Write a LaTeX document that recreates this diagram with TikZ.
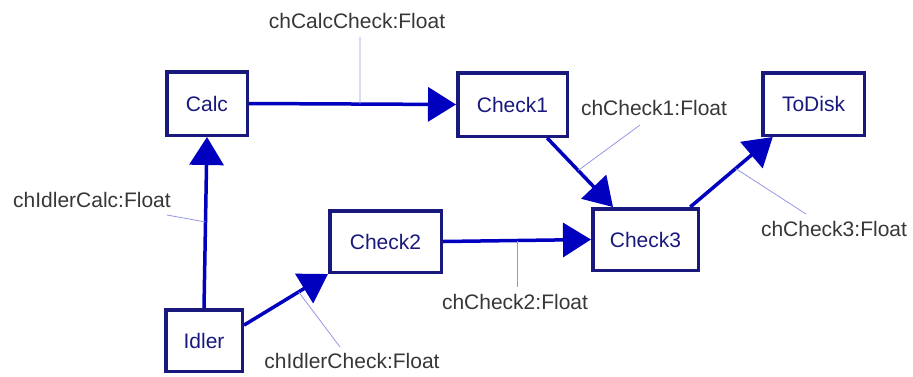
\documentclass[tikz,border=0pt]{standalone}
\usepackage{fontspec}
\setmainfont{Liberation Sans}
\usetikzlibrary{arrows.meta}
\definecolor{boxc}{RGB}{25,25,125}
\definecolor{arrc}{RGB}{0,0,190}
\definecolor{leadc}{RGB}{150,150,230}
\definecolor{labc}{RGB}{55,55,55}
\begin{document}
\begin{tikzpicture}[x=1pt,y=-1pt,
  blk/.style={draw=boxc, line width=3.5pt, text=boxc, font=\fontsize{21}{24}\selectfont, rectangle, inner sep=0pt},
  flow/.style={draw=arrc, line width=3.5pt, -{Triangle[length=28pt,width=34pt]}},
  lead/.style={draw=leadc, line width=0.8pt},
  lab/.style={text=labc, font=\fontsize{21}{24}\selectfont, inner sep=0pt}]
\useasboundingbox (0,0) rectangle (913,376);
\node[blk, minimum width=80.5pt, minimum height=63.5pt] (Calc) at (207,103.5) {Calc};
\node[blk, minimum width=109.5pt, minimum height=63.5pt] (Check1) at (512.5,104.5) {Check1};
\node[blk, minimum width=101.5pt, minimum height=62.5pt] (ToDisk) at (813.5,104) {ToDisk};
\node[blk, minimum width=76.5pt, minimum height=61.5pt] (Idler) at (204,340.5) {Idler};
\node[blk, minimum width=111.5pt, minimum height=61.5pt] (Check2) at (385.5,241.5) {Check2};
\node[blk, minimum width=105.5pt, minimum height=61.5pt] (Check3) at (645.5,239.5) {Check3};

\draw[flow] (Calc.east) -- coordinate[pos=0.536] (m1) (Check1.west);
\draw[flow] (Check1.-44) -- coordinate[pos=0.47] (m2) (Check3.135);
\draw[flow] (Check3.36) -- coordinate[pos=0.55] (m3) (ToDisk.-141);
\draw[flow] (Idler.north) -- coordinate[pos=0.503] (m4) (Calc.south);
\draw[flow] (Idler.21) -- coordinate[pos=0.65] (m5) (Check2.south west);
\draw[flow] (Check2.east) -- coordinate[pos=0.5] (m6) (Check3.west);

\node[lab] (L1) at (357,21) {chCalcCheck:Float};
\node[lab] (L2) at (654,108) {chCheck1:Float};
\node[lab] (L3) at (834,229) {chCheck3:Float};
\node[lab] (L4) at (92,200) {chIdlerCalc:Float};
\node[lab] (L5) at (352,361) {chIdlerCheck:Float};
\node[lab] (L6) at (515,302) {chCheck2:Float};

\coordinate (e1) at (360,37);
\coordinate (e2) at (640,125);
\coordinate (e3) at (806,214);
\coordinate (e4) at (167,215);
\coordinate (e5) at (340,347);
\coordinate (e6) at (517,287);
\draw[lead] (e1) -- (m1);
\draw[lead] (e2) -- (m2);
\draw[lead] (e3) -- (m3);
\draw[lead] (e4) -- (m4);
\draw[lead] (e5) -- (m5);
\draw[lead] (e6) -- (m6);
\end{tikzpicture}
\end{document}
